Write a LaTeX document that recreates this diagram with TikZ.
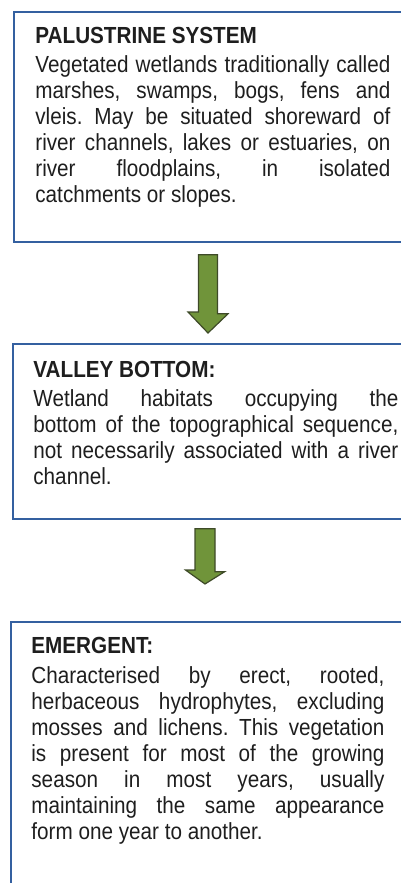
\documentclass[tikz,border=0pt]{standalone}
\usepackage{fontspec}
\setmainfont{Liberation Sans}[FakeStretch=0.888]
\usetikzlibrary{calc}
\frenchspacing
\tolerance=9999
\definecolor{frameblue}{RGB}{52, 96, 160}
\definecolor{leafgreen}{RGB}{112, 148, 58}
\definecolor{darkmoss}{RGB}{62, 74, 40}
\definecolor{inkgrey}{RGB}{30, 30, 30}
\tikzset{
  panel/.style={draw=frameblue, line width=0.9pt, anchor=north west, minimum width=205pt, inner sep=0pt},
  paneltext/.style={anchor=base west, inner sep=0pt, align=justify, text=inkgrey,
                    font=\fontsize{11.65pt}{13pt}\selectfont},
  downarrow/.style={fill=leafgreen, draw=darkmoss, line width=0.6pt, line join=miter}
}

\begin{document}
\begin{tikzpicture}[x=0.5pt, y=0.5pt]
        \useasboundingbox (0,0) rectangle (401,-883);
        % frames
        \node[panel, minimum height=115pt]  (palustrine) at (13, -11) {};
        \node[panel, minimum height=87.5pt] (valley)     at (12,-343) {};
        \node[panel, minimum height=140pt]  (emergent)   at (10,-621) {};
        % texts
        \node[paneltext, text width=177.5pt] (palustrinetext) at ($(palustrine.north west)+(22,-33)$) {%
            \textbf{PALUSTRINE SYSTEM}\\[1.5pt]
            Vegetated wetlands traditionally called\linebreak
            marshes, swamps, bogs, fens and\linebreak
            vleis. May be situated shoreward of\linebreak
            river channels, lakes or estuaries, on\linebreak
            river floodplains, in isolated\linebreak
            catchments or slopes.};
        \node[paneltext, text width=182.5pt] (valleytext) at ($(valley.north west)+(21,-34)$) {%
            \textbf{VALLEY BOTTOM:}\\[1.5pt]
            Wetland habitats occupying the\linebreak
            bottom of the topographical sequence,\linebreak
            not necessarily associated with a river\linebreak
            channel.};
        \node[paneltext, text width=176.5pt] (emergenttext) at ($(emergent.north west)+(21,-32)$) {%
            \textbf{EMERGENT:}\\[2pt]
            Characterised by erect, rooted,\linebreak
            herbaceous hydrophytes, excluding\linebreak
            mosses and lichens. This vegetation\linebreak
            is present for most of the growing\linebreak
            season in most years, usually\linebreak
            maintaining the same appearance\linebreak
            form one year to another.};
        % arrows
        \coordinate (a1top) at ($(palustrine.south west)+(195,-12)$);
        \coordinate (a1tip) at ($(valley.north west)+(196,10)$);
        \coordinate (a2top) at ($(valley.south west)+(193,-9)$);
        \coordinate (a2tip) at ($(emergent.north west)+(195,37)$);
        \filldraw[downarrow] (a1top) ++(-9.5,0) -- ++(19,0) -- ++(0,-59) -- ++(10.5,0) -- (a1tip) -- ++(-20,21)   -- ++(10.5,0) -- cycle;
        \filldraw[downarrow] (a2top) ++(-10,0)  -- ++(20,0) -- ++(0,-43) -- ++(9.5,0)  -- (a2tip) -- ++(-19.5,14) -- ++(9.5,0)  -- cycle;
\end{tikzpicture}
\end{document}
